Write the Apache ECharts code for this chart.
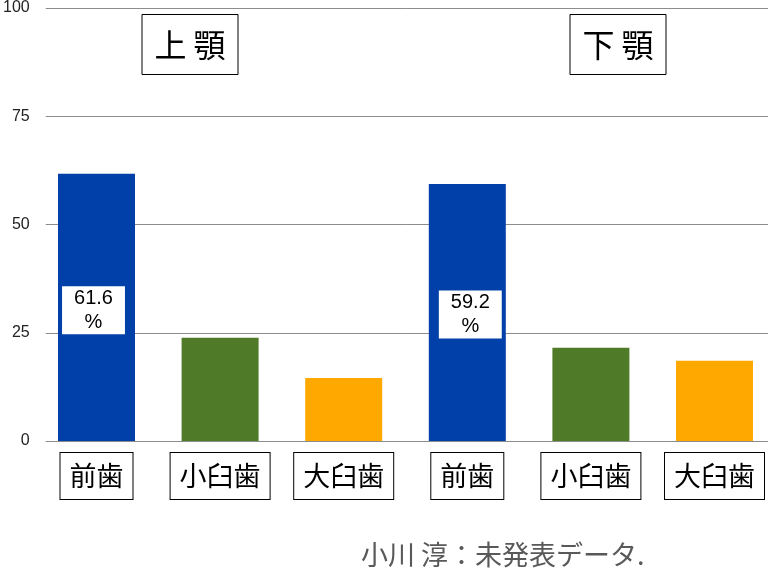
<!DOCTYPE html>
<html>
<head>
<meta charset="utf-8">
<script src="https://cdn.jsdelivr.net/npm/echarts@6/dist/echarts.min.js"></script>
<style>html,body{margin:0;padding:0;background:#fff;overflow:hidden}#c{width:800px;height:568px}</style>
</head>
<body>
<div id="c"></div>
<script>
const categories = ['前歯', '小臼歯', '大臼歯', '前歯', '小臼歯', '大臼歯'];
const values = [61.6, 23.8, 14.5, 59.2, 21.5, 18.5];
const barColors = ['#0040A8', '#4F7A28', '#FFA900', '#0040A8', '#4F7A28', '#FFA900'];
const showValueLabel = [true, false, false, true, false, false];
const labelOffsets = [[-3, 3], null, null, [3, 2], null, null];
const yTicks = [0, 25, 50, 75, 100];
const jawTitles = ['上 顎', '下 顎'];
const sourceText = '小川 淳：未発表データ.';

const CJK = '"Noto Sans CJK JP", "Noto Sans CJK SC", sans-serif';
const chart = echarts.init(document.getElementById('c'), null, {renderer: 'canvas'});

const data = values.map((v, i) => {
  const item = {value: v, itemStyle: {color: barColors[i]}};
  if (showValueLabel[i]) {
    item.label = {
      show: true,
      position: 'inside',
      offset: labelOffsets[i],
      formatter: p => p.value + '\n%',
      backgroundColor: '#fff',
      color: '#000',
      fontFamily: '"Liberation Sans", Arial, sans-serif',
      fontSize: 20,
      lineHeight: 24,
      padding: [0, 12]
    };
  }
  return item;
});

function titleBox(cx, text) {
  return {
    type: 'group',
    children: [
      {type: 'rect', shape: {x: cx - 48, y: 14.5, width: 96, height: 60}, style: {fill: '#fff', stroke: '#000', lineWidth: 1}},
      {type: 'text', x: cx, y: 44.5, style: {text: text, fontSize: 32, fontFamily: CJK, fill: '#000', align: 'center', verticalAlign: 'middle'}}
    ]
  };
}

chart.setOption({
  animation: false,
  backgroundColor: '#fff',
  grid: [
    {left: 43, right: 800 - 768, top: 7, bottom: 127},
    {left: 34.7, width: 741.6, top: 7, bottom: 127}
  ],
  xAxis: [
    {gridIndex: 0, type: 'value', show: false, min: 0, max: 1},
    {
      gridIndex: 1, type: 'category', data: categories,
      axisLine: {show: false}, axisTick: {show: false},
      axisLabel: {
        margin: 12, fontSize: 27, fontFamily: CJK, color: '#000',
        lineHeight: 28, padding: [9, 9], borderColor: '#000', borderWidth: 1, backgroundColor: '#fff',
        interval: 0
      }
    }
  ],
  yAxis: [
    {
      gridIndex: 0, type: 'value', min: yTicks[0], max: yTicks[yTicks.length - 1], interval: 25,
      axisLine: {show: false}, axisTick: {show: false},
      axisLabel: {margin: 16, fontSize: 16, color: '#222', fontFamily: '"Liberation Sans", Arial, sans-serif'},
      splitLine: {show: true, lineStyle: {color: '#8c8c8c', width: 1}}
    },
    {gridIndex: 1, type: 'value', min: 0, max: 100, show: false, splitLine: {show: false}}
  ],
  series: [{
    type: 'bar', xAxisIndex: 1, yAxisIndex: 1,
    data: data, barWidth: 77, z: 3
  }],
  graphic: [
    titleBox(190, jawTitles[0]),
    titleBox(618, jawTitles[1]),
    {type: 'text', x: 361, y: 555, style: {text: sourceText, fontSize: 27, fontFamily: CJK, fill: '#595959', align: 'left', verticalAlign: 'middle'}}
  ]
});
</script>
</body>
</html>
